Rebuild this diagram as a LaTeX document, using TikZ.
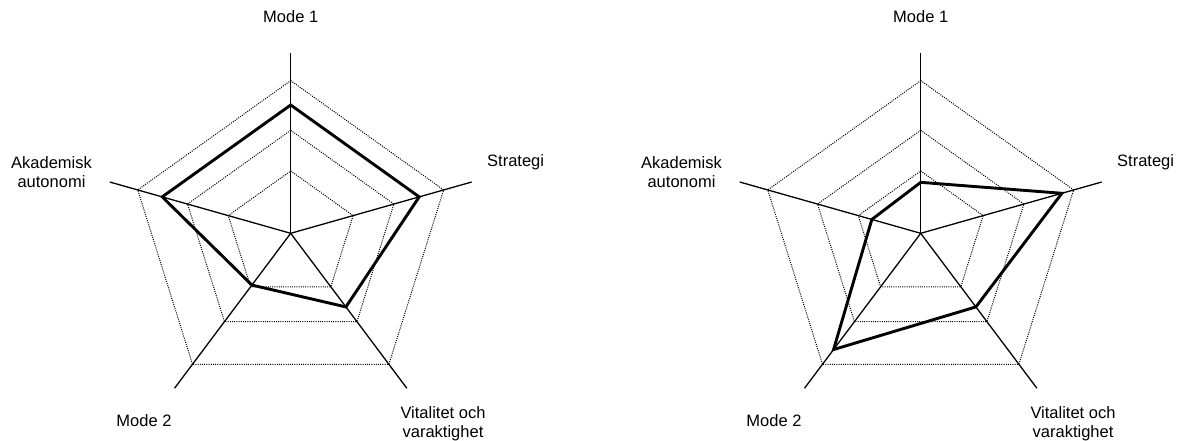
\documentclass[tikz,border=0pt]{standalone}
\usepackage{fontspec}
\setmainfont{Liberation Sans}
\usetikzlibrary{calc}
\begin{document}
\begin{tikzpicture}[x=1pt,y=-1pt,
  axisline/.style={line width=1.3pt},
  gridring/.style={line width=1pt, dash pattern=on 1pt off 1.2pt},
  dataline/.style={line width=2.9pt, line join=miter},
  lbl/.style={font=\fontsize{16.5}{19}\selectfont, align=center, inner sep=0pt}]
\useasboundingbox (0,0) rectangle (1177,441);

% two radar charts with the same five axes
\foreach \ch/\cx in {L/290.7, R/920.7}{
  \coordinate (\ch-c)  at (\cx,233.3);
  \coordinate (\ch-a1) at ($(\ch-c)+(0,-180.7)$);
  \coordinate (\ch-a2) at ($(\ch-c)+(181,-51.3)$);
  \coordinate (\ch-a3) at ($(\ch-c)+(116.2,155)$);
  \coordinate (\ch-a4) at ($(\ch-c)+(-116.2,155)$);
  \coordinate (\ch-a5) at ($(\ch-c)+(-181,-51.3)$);
  % dotted grid rings
  \foreach \f in {0.345,0.57,0.845}{
    \draw[gridring] ($(\ch-c)!\f!(\ch-a1)$) -- ($(\ch-c)!\f!(\ch-a2)$) -- ($(\ch-c)!\f!(\ch-a3)$)
      -- ($(\ch-c)!\f!(\ch-a4)$) -- ($(\ch-c)!\f!(\ch-a5)$) -- cycle;
  }
  % axes
  \foreach \k in {1,...,5}{
    \draw[axisline] (\ch-c) -- (\ch-a\k);
  }
}

% data series
\draw[dataline] ($(L-c)!0.71!(L-a1)$) -- ($(L-c)!0.71!(L-a2)$) -- ($(L-c)!0.475!(L-a3)$)
  -- ($(L-c)!0.334!(L-a4)$) -- ($(L-c)!0.71!(L-a5)$) -- cycle;
\draw[dataline] ($(R-c)!0.282!(R-a1)$) -- ($(R-c)!0.78!(R-a2)$) -- ($(R-c)!0.475!(R-a3)$)
  -- ($(R-c)!0.75!(R-a4)$) -- ($(R-c)!0.27!(R-a5)$) -- cycle;

% axis labels
\foreach \ch/\dx in {L/0, R/630}{
  \node[lbl, anchor=base]      (\ch-t1) at (290.7+\dx,23) {Mode 1};
  \node[lbl, anchor=base west] (\ch-t2) at (487+\dx,166) {Strategi};
  \node[lbl]                   (\ch-t3) at (443+\dx,424) {Vitalitet och\\varaktighet};
  \node[lbl, anchor=base east] (\ch-t4) at (171.7+\dx,426) {Mode 2};
  \node[lbl]                   (\ch-t5) at (51.5+\dx,172) {Akademisk\\autonomi};
}
\end{tikzpicture}
\end{document}
